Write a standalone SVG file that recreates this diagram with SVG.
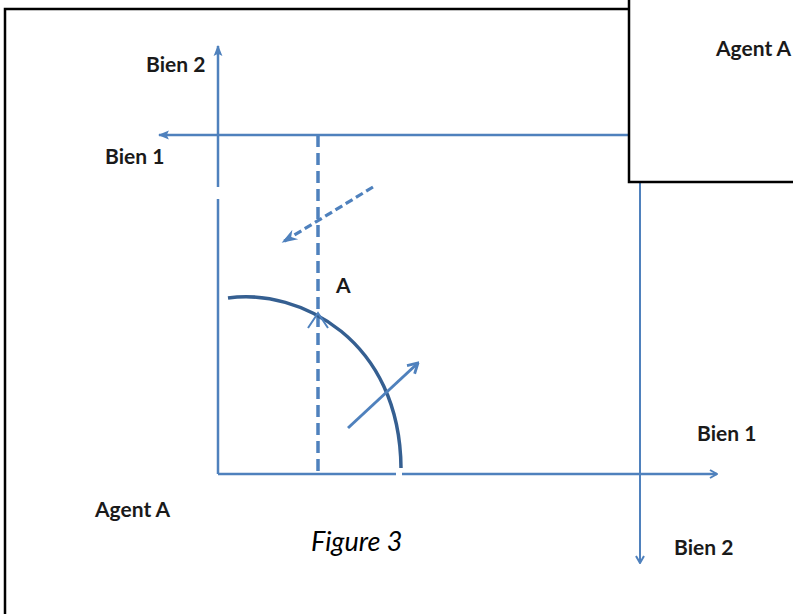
<svg xmlns="http://www.w3.org/2000/svg" width="793" height="614" viewBox="0 0 793 614">
<style>
.ax{stroke:#4f81bd;stroke-width:2.5;fill:none}
.thin{stroke:#4f81bd;stroke-width:2;fill:none}
.lbl{font-family:Lato,"Liberation Sans",sans-serif;font-weight:bold;font-size:21px;fill:#1a1a1a}
.frame{stroke:#000;stroke-width:2.5;fill:none}
</style>
<defs>
<marker id="chev" viewBox="0 0 10 10" refX="9" refY="5" markerWidth="10" markerHeight="10" markerUnits="userSpaceOnUse" orient="auto">
<polyline points="2,1 9,5 2,9" fill="none" stroke="#4f81bd" stroke-width="2"/>
</marker>
<marker id="tri" viewBox="0 0 10 10" refX="9" refY="5" markerWidth="11" markerHeight="11" markerUnits="userSpaceOnUse" orient="auto">
<path d="M0,1 L10,5 L0,9 L2,5 Z" fill="#4f81bd"/>
</marker>
<marker id="tri2" viewBox="0 0 10 10" refX="9" refY="5" markerWidth="16" markerHeight="16" markerUnits="userSpaceOnUse" orient="auto">
<path d="M0,1.5 L10,5 L0,8.5 L3,5 Z" fill="#4f81bd"/>
</marker>
<marker id="chev2" viewBox="0 0 10 10" refX="9" refY="5" markerWidth="14" markerHeight="14" markerUnits="userSpaceOnUse" orient="auto">
<polyline points="2,1 9,5 2,9" fill="none" stroke="#4f81bd" stroke-width="2"/>
</marker>
</defs>
<rect width="793" height="614" fill="#fff"/>
<g id="frame">
<polyline class="frame" points="5,614 5,9 630,9"/>
</g>
<g id="connectors">
<line class="ax" x1="218" y1="474" x2="218" y2="199"/>
<line class="ax" x1="218" y1="187" x2="218" y2="46" marker-end="url(#tri)"/>
<line class="ax" x1="629" y1="135" x2="159" y2="135" marker-end="url(#tri)"/>
<line class="ax" x1="218" y1="474" x2="396" y2="474"/>
<line class="ax" x1="402" y1="474" x2="717" y2="474" marker-end="url(#chev)"/>
<line class="thin" x1="640" y1="182" x2="640" y2="563" marker-end="url(#chev)"/>
<line x1="318" y1="135" x2="318" y2="474" stroke="#4f81bd" stroke-width="3.5" stroke-dasharray="12 6"/>
<line x1="373" y1="187" x2="283" y2="242" stroke="#4f81bd" stroke-width="3.2" stroke-dasharray="8 4" marker-end="url(#tri2)"/>
<path d="M228,298 C300,288 400,340 401,468" fill="none" stroke="#355f91" stroke-width="3.5"/>
<polyline points="308,328 318,313 328,328" fill="none" stroke="#4f81bd" stroke-width="2"/>
<line x1="348" y1="428" x2="418" y2="363" stroke="#4f81bd" stroke-width="3" marker-end="url(#chev2)"/>
</g>
<g id="agentA-box">
<rect class="frame" x="629" y="-5" width="175" height="187" fill="#fff"/>
<text class="lbl" x="716" y="56">Agent A</text>
</g>
<g id="labels">
<text class="lbl" x="146" y="72">Bien 2</text>
<text class="lbl" x="105" y="164">Bien 1</text>
<text class="lbl" x="336" y="293">A</text>
<text class="lbl" x="697" y="441">Bien 1</text>
<text class="lbl" x="674" y="555">Bien 2</text>
<text class="lbl" x="95" y="517">Agent A</text>
<text x="311" y="551" font-family="Lato,'Liberation Sans',sans-serif" font-style="italic" font-size="27px" fill="#000">Figure 3</text>
</g>
</svg>
